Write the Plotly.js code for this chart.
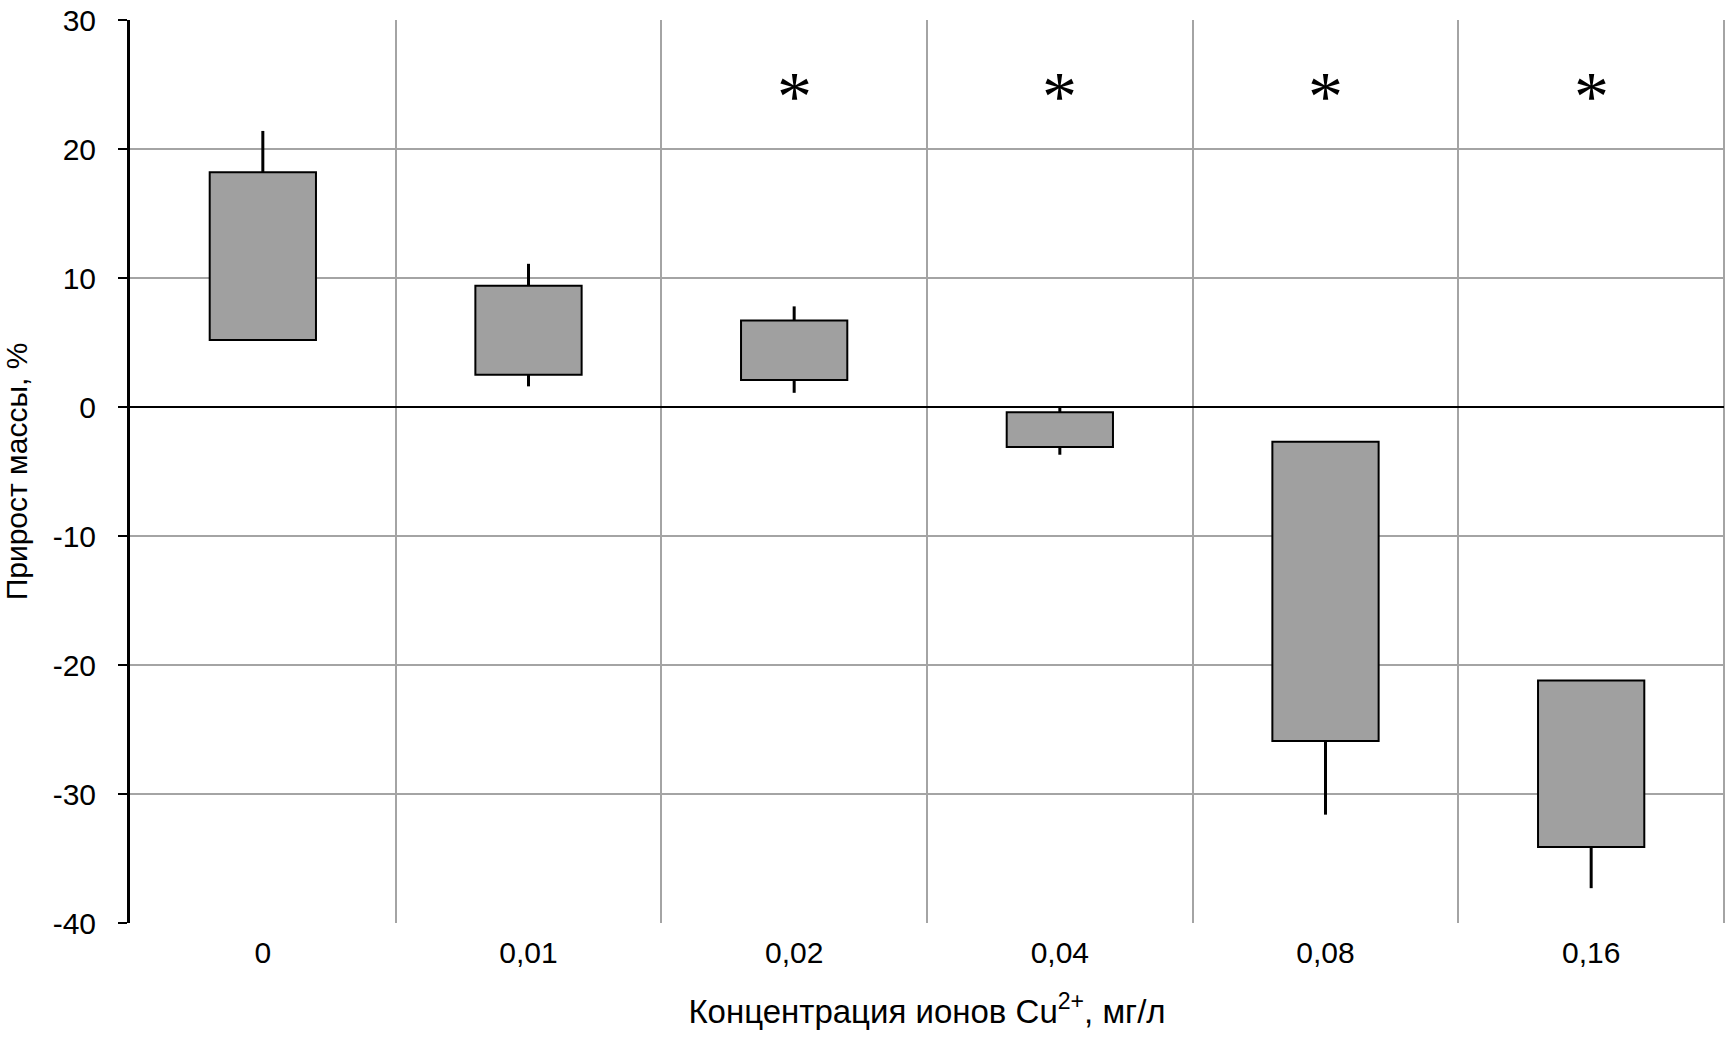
<!DOCTYPE html>
<html>
<head>
<meta charset="utf-8">
<script src="https://cdn.plot.ly/plotly-3.0.1.min.js"></script>
<style>html,body{margin:0;padding:0;background:#fff;}</style>
</head>
<body>
<div id="chart" style="width:1732px;height:1041px;"></div>
<script>
// Data
const categories   = ["0", "0,01", "0,02", "0,04", "0,08", "0,16"];
const boxLow       = [5.2, 2.5, 2.1, -3.1, -25.9, -34.1];
const boxHigh      = [18.2, 9.4, 6.7, -0.4, -2.7, -21.2];
const whiskerLow   = [null, 1.6, 1.1, -3.7, -31.6, -37.3];
const whiskerHigh  = [21.4, 11.1, 7.8, 0.0, null, null];
const significant  = [false, false, true, true, true, true];
const starLevel    = 24.1;
const yTickVals    = [-40, -30, -20, -10, 0, 10, 20, 30];
const yTickText    = ["-40", "-30", "-20", "-10", "0", "10", "20", "30"];

const FONT = '"Liberation Sans", Arial, sans-serif';

// floating bars (box from low to high)
const bars = {
  type: 'bar',
  x: categories,
  base: boxLow,
  y: boxHigh.map((h, i) => h - boxLow[i]),
  width: 0.4,
  marker: {color: '#a0a0a0', line: {color: '#000000', width: 2}},
  hoverinfo: 'skip',
  showlegend: false
};

// whiskers as line segments built from the data arrays
const wx = [], wy = [];
categories.forEach((c, i) => {
  if (whiskerHigh[i] !== null) { wx.push(c, c, null); wy.push(boxHigh[i], whiskerHigh[i], null); }
  if (whiskerLow[i] !== null)  { wx.push(c, c, null); wy.push(boxLow[i], whiskerLow[i], null); }
});
const whiskers = {
  type: 'scatter', mode: 'lines', x: wx, y: wy,
  line: {color: '#000000', width: 3},
  connectgaps: false, hoverinfo: 'skip', showlegend: false
};

const annotations = categories
  .map((c, i) => significant[i] ? {
    x: c, y: starLevel, xref: 'x', yref: 'y', text: '*', showarrow: false,
    xanchor: 'center', yanchor: 'middle',
    font: {family: '"Liberation Serif", "Times New Roman", serif', size: 70, color: '#000'}
  } : null)
  .filter(a => a);

const layout = {
  width: 1732, height: 1041,
  margin: {l: 130, r: 8, t: 20, b: 118},
  paper_bgcolor: '#ffffff', plot_bgcolor: '#ffffff',
  font: {family: FONT, size: 30, color: '#000'},
  showlegend: false,
  xaxis: {
    type: 'category',
    categoryorder: 'array', categoryarray: categories,
    range: [-0.5, 5.5],
    tickson: 'boundaries',
    ticks: '', showline: false,
    showgrid: true, gridcolor: '#a4a4a4', gridwidth: 2,
    tickfont: {family: FONT, size: 30, color: '#000'},
    ticklabelstandoff: 9,
    title: {text: 'Концентрация ионов Cu<sup>2+</sup>, мг/л', font: {family: FONT, size: 33, color: '#000'}, standoff: 31},
    fixedrange: true
  },
  yaxis: {
    range: [-40, 30],
    tickvals: yTickVals, ticktext: yTickText,
    ticks: 'outside', ticklen: 9, tickwidth: 2, tickcolor: '#000',
    showline: true, linecolor: '#000', linewidth: 3,
    showgrid: true, gridcolor: '#a4a4a4', gridwidth: 2,
    zeroline: true, zerolinecolor: '#000', zerolinewidth: 2,
    tickfont: {family: FONT, size: 30, color: '#000'},
    ticklabelstandoff: 16,
    title: {text: 'Прирост массы, %', font: {family: FONT, size: 30, color: '#000'}, standoff: 22},
    fixedrange: true
  },
  shapes: [
    {type: 'line', xref: 'paper', yref: 'paper', x0: 1, x1: 1, y0: 0, y1: 1,
     line: {color: '#a4a4a4', width: 2}, layer: 'below'}
  ],
  annotations: annotations
};

Plotly.newPlot('chart', [bars, whiskers], layout, {displayModeBar: false, staticPlot: true});
</script>
</body>
</html>
